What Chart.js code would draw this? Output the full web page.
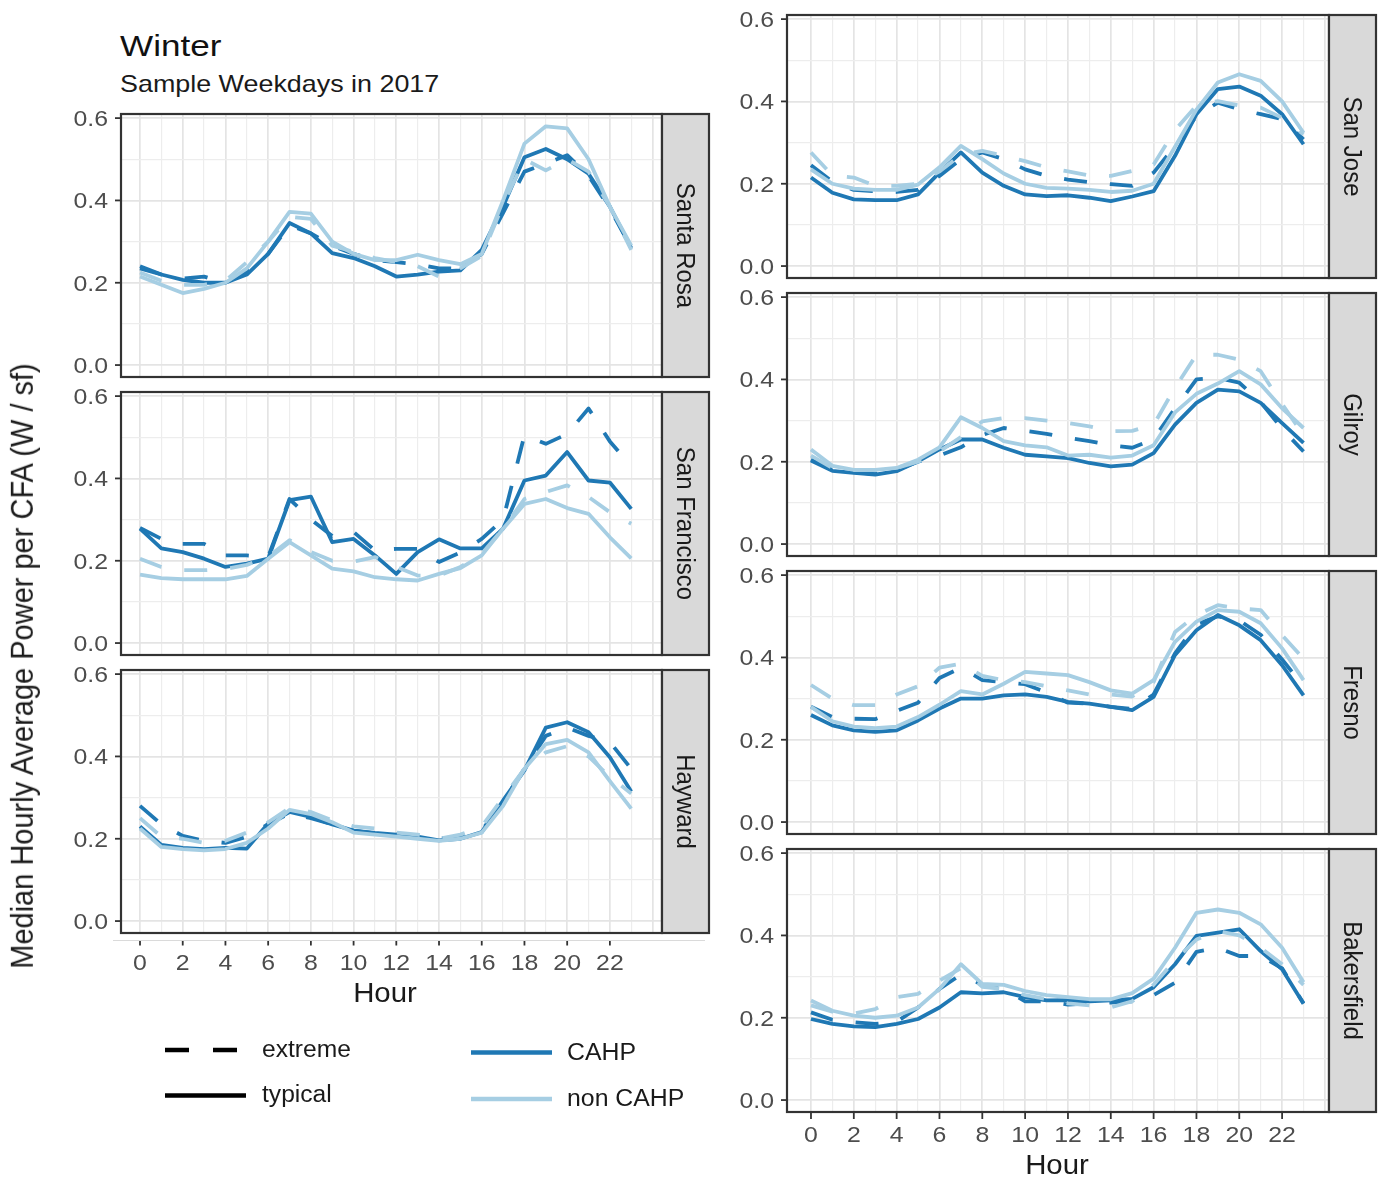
<!DOCTYPE html>
<html>
<head>
<meta charset="utf-8">
<title>Winter – Sample Weekdays in 2017</title>
<script src="https://cdn.jsdelivr.net/npm/chart.js@4.4.1/dist/chart.umd.min.js"></script>
<style>
  html, body { margin: 0; padding: 0; background: #ffffff; }
  #page {
    position: relative; width: 1385px; height: 1181px; overflow: hidden;
    background: #ffffff; font-family: "Liberation Sans", Arial, Helvetica, sans-serif;
  }
  #page canvas { position: absolute; }
  .txt { position: absolute; white-space: nowrap; line-height: 1; }
  #legend { position: absolute; left: 0; top: 0; }
</style>
</head>
<body>
<div id="page"></div>
<script>
// ---------------------------------------------------------------
// Data: median hourly average power per CFA (W / sf), winter weekdays
// ---------------------------------------------------------------
const hours = [0, 1, 2, 3, 4, 5, 6, 7, 8, 9, 10, 11, 12, 13, 14, 15, 16, 17, 18, 19, 20, 21, 22, 23];
const hourTicks = [0, 2, 4, 6, 8, 10, 12, 14, 16, 18, 20, 22];
const hourGrid = [0, 1, 2, 3, 4, 5, 6, 7, 8, 9, 10, 11, 12, 13, 14, 15, 16, 17, 18, 19, 20, 21, 22, 23, 24];
const powerTicks = [0.0, 0.2, 0.4, 0.6];
const powerGrid = [0.0, 0.1, 0.2, 0.3, 0.4, 0.5, 0.6];

// Santa Rosa
const santaRosaCahpTypical = [0.240, 0.220, 0.207, 0.200, 0.200, 0.220, 0.270, 0.345, 0.320, 0.272, 0.260, 0.240, 0.215, 0.220, 0.227, 0.230, 0.280, 0.385, 0.505, 0.525, 0.500, 0.465, 0.385, 0.284];
const santaRosaCahpExtreme = [0.235, 0.220, 0.210, 0.215, 0.200, 0.225, 0.270, 0.340, 0.320, 0.290, 0.270, 0.255, 0.250, 0.245, 0.235, 0.235, 0.270, 0.370, 0.470, 0.490, 0.510, 0.460, 0.380, 0.285];
const santaRosaNonTypical = [0.215, 0.195, 0.175, 0.185, 0.200, 0.235, 0.300, 0.372, 0.368, 0.300, 0.270, 0.255, 0.255, 0.268, 0.255, 0.245, 0.270, 0.400, 0.538, 0.580, 0.575, 0.500, 0.385, 0.290];
const santaRosaNonExtreme = [0.225, 0.205, 0.195, 0.195, 0.205, 0.250, 0.300, 0.360, 0.355, 0.290, 0.275, 0.260, 0.250, 0.240, 0.215, 0.235, 0.265, 0.390, 0.500, 0.473, 0.500, 0.470, 0.385, 0.280];

// San Francisco
const sanFranciscoCahpTypical = [0.278, 0.230, 0.221, 0.205, 0.185, 0.193, 0.205, 0.347, 0.356, 0.245, 0.253, 0.213, 0.168, 0.221, 0.252, 0.230, 0.230, 0.278, 0.395, 0.407, 0.464, 0.395, 0.390, 0.326];
const sanFranciscoCahpExtreme = [0.280, 0.253, 0.241, 0.241, 0.213, 0.213, 0.209, 0.350, 0.300, 0.260, 0.270, 0.225, 0.229, 0.229, 0.197, 0.220, 0.253, 0.300, 0.505, 0.484, 0.508, 0.570, 0.490, 0.430];
const sanFranciscoNonTypical = [0.166, 0.158, 0.155, 0.155, 0.155, 0.163, 0.205, 0.245, 0.213, 0.181, 0.174, 0.160, 0.155, 0.152, 0.168, 0.182, 0.213, 0.278, 0.338, 0.350, 0.328, 0.314, 0.257, 0.206];
const sanFranciscoNonExtreme = [0.205, 0.185, 0.177, 0.177, 0.180, 0.190, 0.210, 0.250, 0.221, 0.200, 0.198, 0.209, 0.185, 0.164, 0.164, 0.185, 0.217, 0.278, 0.350, 0.367, 0.383, 0.355, 0.318, 0.290];

// Hayward
const haywardCahpTypical = [0.230, 0.185, 0.178, 0.175, 0.178, 0.176, 0.237, 0.265, 0.253, 0.235, 0.220, 0.214, 0.210, 0.205, 0.196, 0.200, 0.216, 0.293, 0.366, 0.470, 0.483, 0.459, 0.398, 0.315];
const haywardCahpExtreme = [0.280, 0.235, 0.207, 0.195, 0.190, 0.205, 0.235, 0.262, 0.250, 0.235, 0.220, 0.213, 0.210, 0.205, 0.200, 0.205, 0.220, 0.290, 0.370, 0.450, 0.470, 0.450, 0.435, 0.370];
const haywardNonTypical = [0.225, 0.180, 0.175, 0.172, 0.175, 0.190, 0.225, 0.270, 0.260, 0.240, 0.215, 0.210, 0.205, 0.200, 0.195, 0.200, 0.215, 0.280, 0.370, 0.430, 0.440, 0.410, 0.340, 0.273];
const haywardNonExtreme = [0.250, 0.205, 0.200, 0.190, 0.195, 0.215, 0.240, 0.275, 0.265, 0.245, 0.230, 0.225, 0.215, 0.210, 0.200, 0.210, 0.230, 0.300, 0.370, 0.410, 0.425, 0.400, 0.350, 0.310];

// San Jose
const sanJoseCahpTypical = [0.215, 0.178, 0.162, 0.160, 0.160, 0.174, 0.227, 0.276, 0.227, 0.195, 0.174, 0.170, 0.172, 0.166, 0.158, 0.169, 0.182, 0.268, 0.369, 0.430, 0.436, 0.414, 0.369, 0.296];
const sanJoseCahpExtreme = [0.245, 0.205, 0.185, 0.182, 0.180, 0.185, 0.219, 0.260, 0.276, 0.260, 0.235, 0.219, 0.210, 0.204, 0.199, 0.195, 0.227, 0.292, 0.365, 0.397, 0.381, 0.369, 0.357, 0.308];
const sanJoseNonTypical = [0.235, 0.200, 0.188, 0.185, 0.185, 0.198, 0.240, 0.292, 0.260, 0.225, 0.200, 0.190, 0.188, 0.185, 0.180, 0.183, 0.200, 0.290, 0.380, 0.446, 0.466, 0.450, 0.400, 0.324];
const sanJoseNonExtreme = [0.276, 0.220, 0.215, 0.195, 0.195, 0.200, 0.230, 0.270, 0.280, 0.268, 0.255, 0.240, 0.230, 0.220, 0.219, 0.231, 0.247, 0.330, 0.390, 0.401, 0.390, 0.385, 0.360, 0.320];

// Gilroy
const gilroyCahpTypical = [0.203, 0.178, 0.173, 0.169, 0.177, 0.201, 0.230, 0.254, 0.254, 0.234, 0.217, 0.213, 0.209, 0.197, 0.189, 0.193, 0.221, 0.290, 0.343, 0.375, 0.371, 0.343, 0.294, 0.246];
const gilroyCahpExtreme = [0.205, 0.180, 0.175, 0.170, 0.180, 0.200, 0.215, 0.235, 0.265, 0.282, 0.275, 0.268, 0.258, 0.250, 0.240, 0.234, 0.255, 0.330, 0.400, 0.404, 0.392, 0.345, 0.280, 0.225];
const gilroyNonTypical = [0.230, 0.190, 0.180, 0.180, 0.185, 0.205, 0.235, 0.308, 0.282, 0.250, 0.240, 0.235, 0.215, 0.217, 0.210, 0.215, 0.240, 0.320, 0.365, 0.390, 0.420, 0.388, 0.330, 0.282];
const gilroyNonExtreme = [0.215, 0.185, 0.180, 0.180, 0.185, 0.200, 0.225, 0.260, 0.298, 0.306, 0.306, 0.300, 0.294, 0.286, 0.274, 0.275, 0.290, 0.380, 0.460, 0.460, 0.448, 0.420, 0.340, 0.265];

// Fresno
const fresnoCahpTypical = [0.260, 0.235, 0.223, 0.219, 0.223, 0.247, 0.276, 0.300, 0.300, 0.308, 0.310, 0.304, 0.292, 0.288, 0.280, 0.272, 0.304, 0.406, 0.466, 0.503, 0.478, 0.442, 0.381, 0.308];
const fresnoCahpExtreme = [0.280, 0.255, 0.251, 0.250, 0.270, 0.290, 0.350, 0.375, 0.345, 0.340, 0.335, 0.315, 0.290, 0.288, 0.280, 0.275, 0.310, 0.410, 0.480, 0.500, 0.490, 0.455, 0.395, 0.330];
const fresnoNonTypical = [0.280, 0.245, 0.232, 0.228, 0.232, 0.255, 0.285, 0.318, 0.310, 0.336, 0.365, 0.361, 0.357, 0.340, 0.320, 0.312, 0.345, 0.438, 0.487, 0.515, 0.511, 0.483, 0.422, 0.345];
const fresnoNonExtreme = [0.333, 0.300, 0.284, 0.284, 0.310, 0.330, 0.375, 0.385, 0.355, 0.345, 0.340, 0.330, 0.320, 0.310, 0.310, 0.305, 0.340, 0.462, 0.503, 0.527, 0.519, 0.515, 0.454, 0.397];

// Bakersfield
const bakersfieldCahpTypical = [0.197, 0.185, 0.179, 0.177, 0.185, 0.197, 0.225, 0.262, 0.259, 0.262, 0.250, 0.242, 0.243, 0.240, 0.242, 0.246, 0.274, 0.330, 0.399, 0.407, 0.415, 0.362, 0.318, 0.234];
const bakersfieldCahpExtreme = [0.213, 0.195, 0.189, 0.185, 0.190, 0.225, 0.270, 0.305, 0.280, 0.270, 0.240, 0.240, 0.232, 0.235, 0.237, 0.240, 0.255, 0.285, 0.360, 0.370, 0.350, 0.350, 0.320, 0.235];
const bakersfieldNonTypical = [0.242, 0.217, 0.205, 0.200, 0.205, 0.225, 0.270, 0.330, 0.282, 0.280, 0.265, 0.255, 0.250, 0.245, 0.245, 0.260, 0.295, 0.370, 0.455, 0.463, 0.455, 0.427, 0.370, 0.286];
const bakersfieldNonExtreme = [0.230, 0.215, 0.210, 0.221, 0.250, 0.258, 0.290, 0.320, 0.275, 0.270, 0.255, 0.245, 0.235, 0.230, 0.225, 0.240, 0.280, 0.340, 0.390, 0.410, 0.400, 0.370, 0.330, 0.280];

// ---------------------------------------------------------------
// Styling and layout
// ---------------------------------------------------------------
const FONT = '"Liberation Sans", Arial, Helvetica, sans-serif';
const CAHP_COLOR = '#1F78B4';
const NON_CAHP_COLOR = '#A6CEE3';
const DASH = [23, 23];
const LINE_W = 3.8;
const BORDER_COLOR = '#333333';
const STRIP_FILL = '#D9D9D9';
const STRIP_W = 47;
const PANEL_H = 263;
const Y_MIN = -0.029, Y_MAX = 0.61;
const TEXT_STRETCH = 1.13;

// two facet columns; each column has its own hour range
const COLUMNS = [
  { left: 121, width: 541, xMin: -0.89, xMax: 24.44, axis: 'detached' },
  { left: 787, width: 542, xMin: -1.12, xMax: 24.19, axis: 'attached' }
];

const PANELS = [
  { name: 'Santa Rosa',    col: 0, top: 114, bottom: false,
    series: [santaRosaCahpTypical, santaRosaCahpExtreme, santaRosaNonTypical, santaRosaNonExtreme] },
  { name: 'San Francisco', col: 0, top: 392, bottom: false,
    series: [sanFranciscoCahpTypical, sanFranciscoCahpExtreme, sanFranciscoNonTypical, sanFranciscoNonExtreme] },
  { name: 'Hayward',       col: 0, top: 670, bottom: true,
    series: [haywardCahpTypical, haywardCahpExtreme, haywardNonTypical, haywardNonExtreme] },
  { name: 'San Jose',      col: 1, top: 15, bottom: false,
    series: [sanJoseCahpTypical, sanJoseCahpExtreme, sanJoseNonTypical, sanJoseNonExtreme] },
  { name: 'Gilroy',        col: 1, top: 293, bottom: false,
    series: [gilroyCahpTypical, gilroyCahpExtreme, gilroyNonTypical, gilroyNonExtreme] },
  { name: 'Fresno',        col: 1, top: 571, bottom: false,
    series: [fresnoCahpTypical, fresnoCahpExtreme, fresnoNonTypical, fresnoNonExtreme] },
  { name: 'Bakersfield',   col: 1, top: 849, bottom: true,
    series: [bakersfieldCahpTypical, bakersfieldCahpExtreme, bakersfieldNonTypical, bakersfieldNonExtreme] }
];

// group (colour) x condition (linetype); non CAHP lines sit on top
const SERIES_STYLE = [
  { label: 'CAHP typical',     color: CAHP_COLOR,     dash: [],   order: 3 },
  { label: 'CAHP extreme',     color: CAHP_COLOR,     dash: DASH, order: 4 },
  { label: 'non CAHP typical', color: NON_CAHP_COLOR, dash: [],   order: 1 },
  { label: 'non CAHP extreme', color: NON_CAHP_COLOR, dash: DASH, order: 2 }
];

const page = document.getElementById('page');

// text drawn on a canvas, optionally widened and rotated about (x, y)
function canvasText(ctx, str, x, y, f) {
  ctx.save();
  ctx.translate(x, y);
  ctx.scale(f.sx || 1, 1);
  if (f.rot) ctx.rotate(f.rot);
  ctx.font = f.size + 'px ' + FONT;
  ctx.fillStyle = f.color;
  ctx.textAlign = f.align || 'center';
  ctx.textBaseline = 'alphabetic';
  ctx.fillText(str, 0, f.size * 0.358);
  ctx.restore();
}

const TICK_TEXT = { size: 22, sx: TEXT_STRETCH, color: '#4D4D4D' };
const STRIP_TEXT = { size: 24, sx: 1.1, color: '#1A1A1A', rot: Math.PI / 2 };

// panel border, facet strip, axis ticks and tick labels
const facetPlugin = {
  id: 'facet',
  afterDraw(chart, _args, opts) {
    const { ctx, chartArea: a } = chart;
    const xs = chart.scales.x, ys = chart.scales.y;
    const h = a.bottom - a.top;
    ctx.save();

    ctx.strokeStyle = BORDER_COLOR;
    ctx.lineWidth = 2.2;
    ctx.strokeRect(a.left, a.top, a.right - a.left, h);

    ctx.fillStyle = STRIP_FILL;
    ctx.fillRect(a.right, a.top, STRIP_W, h);
    ctx.strokeRect(a.right, a.top, STRIP_W, h);
    canvasText(ctx, opts.name, a.right + STRIP_W / 2 + 1, (a.top + a.bottom) / 2, STRIP_TEXT);

    ctx.lineWidth = 1.8;
    powerTicks.forEach(v => {
      const py = ys.getPixelForValue(v);
      ctx.beginPath();
      ctx.moveTo(a.left - 6, py);
      ctx.lineTo(a.left, py);
      ctx.stroke();
      canvasText(ctx, v.toFixed(1), a.left - 13, py, Object.assign({ align: 'right' }, TICK_TEXT));
    });

    if (opts.axis === 'detached') {
      ctx.strokeStyle = '#DADADA';
      ctx.lineWidth = 1.2;
      ctx.beginPath();
      ctx.moveTo(a.left - 8, a.bottom + 7.5);
      ctx.lineTo(a.right + 43, a.bottom + 7.5);
      ctx.stroke();
      ctx.strokeStyle = BORDER_COLOR;
      ctx.lineWidth = 1.8;
      hourTicks.forEach(v => {
        const px = xs.getPixelForValue(v);
        ctx.beginPath();
        ctx.moveTo(px, a.bottom + 8);
        ctx.lineTo(px, a.bottom + 12.5);
        ctx.stroke();
        canvasText(ctx, String(v), px, a.bottom + 29, TICK_TEXT);
      });
    } else if (opts.axis === 'attached') {
      ctx.strokeStyle = BORDER_COLOR;
      ctx.lineWidth = 1.8;
      hourTicks.forEach(v => {
        const px = xs.getPixelForValue(v);
        ctx.beginPath();
        ctx.moveTo(px, a.bottom);
        ctx.lineTo(px, a.bottom + 7);
        ctx.stroke();
        canvasText(ctx, String(v), px, a.bottom + 22.5, TICK_TEXT);
      });
    }
    ctx.restore();
  }
};

function gridColor(major) { return major ? '#E4E4E4' : '#EDEDED'; }

function makePanel(p) {
  const col = COLUMNS[p.col];
  const padL = 115, padT = 10, padR = STRIP_W + 6, padB = p.bottom ? 48 : 10;
  const cw = padL + col.width + padR;
  const ch = padT + PANEL_H + padB;
  const cv = document.createElement('canvas');
  cv.width = cw; cv.height = ch;
  cv.style.width = cw + 'px'; cv.style.height = ch + 'px';
  cv.style.left = (col.left - padL) + 'px';
  cv.style.top = (p.top - padT) + 'px';
  page.appendChild(cv);

  const datasets = p.series.map((vals, i) => {
    const s = SERIES_STYLE[i];
    return {
      label: s.label,
      data: hours.map((hr, k) => ({ x: hr, y: vals[k] })),
      borderColor: s.color,
      borderWidth: LINE_W,
      borderDash: s.dash,
      borderCapStyle: 'butt',
      borderJoinStyle: 'round',
      pointRadius: 0,
      tension: 0,
      fill: false,
      order: s.order
    };
  });

  return new Chart(cv.getContext('2d'), {
    type: 'line',
    data: { datasets },
    options: {
      responsive: false,
      animation: false,
      devicePixelRatio: 1,
      events: [],
      layout: { padding: { left: padL, right: padR, top: padT, bottom: padB } },
      plugins: {
        legend: { display: false },
        tooltip: { enabled: false },
        title: { display: false },
        facet: { name: p.name, axis: p.bottom ? col.axis : null }
      },
      scales: {
        x: {
          type: 'linear',
          min: col.xMin,
          max: col.xMax,
          afterBuildTicks: s => { s.ticks = hourGrid.map(v => ({ value: v })); },
          afterFit: s => { s.height = 0; },
          ticks: { display: false },
          border: { display: false },
          grid: {
            drawTicks: false,
            color: c => gridColor(c.tick && c.tick.value % 2 === 0),
            lineWidth: c => (c.tick && c.tick.value % 2 === 0) ? 1.7 : 1.2
          }
        },
        y: {
          type: 'linear',
          min: Y_MIN,
          max: Y_MAX,
          afterBuildTicks: s => { s.ticks = powerGrid.map(v => ({ value: v })); },
          afterFit: s => { s.width = 0; },
          ticks: { display: false },
          border: { display: false },
          grid: {
            drawTicks: false,
            color: c => gridColor(c.index % 2 === 0),
            lineWidth: c => (c.index % 2 === 0) ? 1.7 : 1.2
          }
        }
      }
    },
    plugins: [facetPlugin]
  });
}

PANELS.forEach(makePanel);

// ---------------------------------------------------------------
// Titles, axis titles and legend
// ---------------------------------------------------------------
function addText(str, x, y, o) {
  const d = document.createElement('div');
  d.className = 'txt';
  d.textContent = str;
  d.style.left = x + 'px';
  d.style.top = y + 'px';
  d.style.fontSize = o.size + 'px';
  d.style.color = o.color || '#1A1A1A';
  const sx = o.sx || 1;
  if (o.rotate) {
    d.style.transform = 'translate(-50%,-50%) scaleX(' + sx + ') rotate(' + o.rotate + 'deg)';
  } else if (o.align === 'left') {
    d.style.transformOrigin = '0 50%';
    d.style.transform = 'translateY(-50%) scaleX(' + sx + ')';
  } else {
    d.style.transform = 'translate(-50%,-50%) scaleX(' + sx + ')';
  }
  page.appendChild(d);
  return d;
}

addText('Winter', 120, 46, { size: 30, sx: 1.17, align: 'left', color: '#111111' });
addText('Sample Weekdays in 2017', 120, 84, { size: 24, sx: 1.12, align: 'left', color: '#1A1A1A' });
addText('Median Hourly Average Power per CFA (W / sf)', 22, 666, { size: 29, sx: 1.1, rotate: -90, color: '#1A1A1A' });
addText('Hour', 385, 993, { size: 28, sx: 1.05, color: '#1A1A1A' });
addText('Hour', 1057, 1165, { size: 28, sx: 1.05, color: '#1A1A1A' });

// legend keys
const svgNS = 'http://www.w3.org/2000/svg';
const legend = document.createElementNS(svgNS, 'svg');
legend.setAttribute('id', 'legend');
legend.setAttribute('width', '1385');
legend.setAttribute('height', '1181');
function keyLine(x1, x2, y, color, width, dash) {
  const l = document.createElementNS(svgNS, 'line');
  l.setAttribute('x1', x1); l.setAttribute('x2', x2);
  l.setAttribute('y1', y); l.setAttribute('y2', y);
  l.setAttribute('stroke', color);
  l.setAttribute('stroke-width', width);
  if (dash) l.setAttribute('stroke-dasharray', dash.join(' '));
  legend.appendChild(l);
}
keyLine(165, 246, 1050, '#000000', 4.5, [24, 24]);
keyLine(165, 246, 1095.5, '#000000', 4.5, null);
keyLine(471, 552, 1052.5, CAHP_COLOR, 4.5, null);
keyLine(471, 552, 1099, NON_CAHP_COLOR, 4.5, null);
page.appendChild(legend);

addText('extreme', 262, 1049, { size: 23, sx: 1.07, align: 'left' });
addText('typical', 262, 1094, { size: 23, sx: 1.07, align: 'left' });
addText('CAHP', 567, 1052, { size: 23, sx: 1.08, align: 'left' });
addText('non CAHP', 567, 1098, { size: 23, sx: 1.08, align: 'left' });
</script>
</body>
</html>
